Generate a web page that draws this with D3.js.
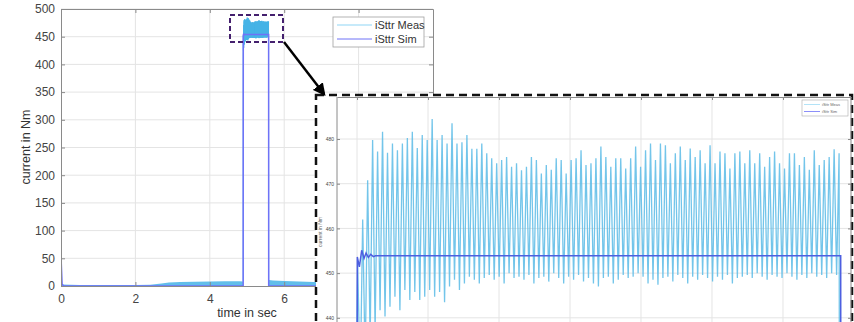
<!DOCTYPE html>
<html>
<head>
<meta charset="utf-8">
<script src="https://cdn.jsdelivr.net/npm/d3@7"></script>
<style>
  body { margin: 0; background: #fff; }
  svg { display: block; font-family: "Liberation Sans", Arial, sans-serif; }
  .grid line { stroke: #e4e4e4; stroke-width: 1; }
  .axis path, .axis line { stroke: #8a8a8a; }
  .axis text { fill: #444; }
</style>
</head>
<body>
<div id="chart"></div>
<script>
// simulated current: [time, value]
const simPoints = [
  [0, 116], [0.008, 40], [0.03, 3], [0.08, 0], [4.8972, 0],
  [4.9004, 453.6], [4.9033, 451.4], [4.9066, 455.1], [4.9099, 453.3],
  [4.9127, 454.5], [4.9160, 453.5], [4.9193, 454.2], [4.9230, 453.7],
  [4.9260, 453.9], [5.5813, 453.9], [5.5830, 0], [10, 0]
];

// measured current, low level part (envelope of the noisy band)
const lowT  = [0, 0.02, 0.5, 1.0, 1.5, 2.0, 2.4, 2.7, 2.9, 3.2, 3.6, 4.0, 4.4, 4.8, 4.895];
const lowHi = [6, 2.5, 1.8, 1.6, 1.6, 1.8, 2.4, 4.5, 6.5, 7, 7.5, 8, 8.5, 8.5, 8];
const postT  = [5.585, 5.7, 6.0, 6.4, 6.8, 7.2, 8, 9, 10];
const postHi = [11, 10, 9, 8, 7, 6, 5, 4, 4];

// measured current during the load step: one peak and one trough per cycle
const measStart = 4.8975;
const measPeriod = 0.00699;
const measPeak = [
  452, 462, 470.8, 479.8, 477.2, 481.6, 476.9, 479, 477.5, 479, 480.2, 481.6, 478, 480.9, 479.8, 484.5, 479.8, 480.9, 479,
  483.5, 479, 479.3, 480.9, 477.8, 477.8, 479, 476.8, 475.7, 474.6, 475.3, 476, 473.8, 474.6, 473, 473.8, 476, 475.3, 472.3,
  474.2, 473.1, 475.7, 475.3, 472.3, 475.3, 475.7, 477.5, 474.2, 474.6, 475.7, 478.3, 476.0, 473.8, 475.7, 475.7, 473.4, 475.7, 478.3, 473.8,
  477.5, 479.0, 475.3, 479.0, 478.6, 474.6, 476.8, 478.3, 475.3, 477.9, 476.0, 477.5, 474.6, 478.6, 474.6, 477.2, 476.8, 473.4, 476.8, 477.2, 474.6,
  477.5, 474.6, 476.8, 473.8, 476.0, 477.2, 474.6, 473.4, 476.8, 476.8, 474.2, 476.0, 473.1, 477.5, 474.2, 475.3, 476.0, 477.7, 476.8
];
const measTrough = [
  415, 425, 430, 435, 437, 441.7, 440.3, 442.5, 444.7, 441.7, 446.2, 444, 445.8, 444, 444.7, 446.2, 444.7, 445.8, 443.5,
  447.0, 448.5, 446.2, 447.7, 449.2, 448.5, 447.7, 448.9, 449.6, 448.5, 449.2, 447.7, 450.0, 448.9, 449.2, 448.5, 449.6, 447.7, 448.9,
  449.2, 448.1, 450.0, 448.9, 447.7, 449.2, 448.5, 449.6, 448.1, 448.9, 447.7, 447.0, 448.9, 449.2, 447.7, 448.5, 449.6, 448.9, 449.2, 450.0,
  449.2, 447.7, 448.5, 447.4, 448.9, 449.2, 448.1, 449.6, 448.9, 447.7, 449.2, 448.5, 449.6, 448.9, 448.1, 449.2, 448.5, 449.6, 447.7, 448.9, 449.2,
  449.6, 448.9, 450.0, 449.2, 448.5, 449.6, 449.2, 448.9, 450.0, 449.2, 448.5, 449.6, 448.9, 450.0, 449.2, 449.6, 448.9, 450.0, 449.6
];

const xTicksMain = [0, 2, 4, 6, 8];
const yTicksMain = [0, 50, 100, 150, 200, 250, 300, 350, 400, 450, 500];
const xTicksInset = [4.9, 5.0, 5.1, 5.2, 5.3, 5.4, 5.5];
const yTicksInset = [440, 450, 460, 470, 480];
const legendNames = ["iSttr Meas", "iSttr Sim"];

const measColor = "#45b3e6", simColor = "#6f72f7", simColorInset = "#4d5fe0";

// build the measured series for the step from peaks/troughs
const measStep = [[measStart - 0.0002, 8]];
measPeak.forEach((p, i) => {
  const t0 = measStart + i * measPeriod;
  measStep.push([t0, measTrough[i]]);
  measStep.push([t0 + measPeriod / 2, p]);
});
measStep.push([measStart + measPeak.length * measPeriod, 9]);

const W = 854, H = 322;
const svg = d3.select("#chart").append("svg").attr("width", W).attr("height", H);

// ---------------- main axes ----------------
const x = d3.scaleLinear().domain([0, 10]).range([61, 433]);
const y = d3.scaleLinear().domain([0, 500]).range([286, 9]);

svg.append("defs").append("clipPath").attr("id", "clipMain")
  .append("rect").attr("x", 61).attr("y", 9).attr("width", 372).attr("height", 277);

const main = svg.append("g");
main.append("g").attr("class", "grid")
  .selectAll("line.v").data(xTicksMain.slice(1)).join("line")
  .attr("x1", d => x(d)).attr("x2", d => x(d)).attr("y1", y(0)).attr("y2", y(500));
main.append("g").attr("class", "grid")
  .selectAll("line.h").data(yTicksMain.slice(1)).join("line")
  .attr("x1", x(0)).attr("x2", x(10)).attr("y1", d => y(d)).attr("y2", d => y(d));

const plot = main.append("g").attr("clip-path", "url(#clipMain)");
const area = d3.area().x(d => x(d[0])).y0(y(0)).y1(d => y(d[1]));
plot.append("path").datum(lowT.map((t, i) => [t, lowHi[i]]))
  .attr("d", area).attr("fill", measColor).attr("opacity", 0.85);
plot.append("path").datum(postT.map((t, i) => [t, postHi[i]]))
  .attr("d", area).attr("fill", measColor).attr("opacity", 0.85);
const lineMain = d3.line().x(d => x(d[0])).y(d => y(d[1]));
plot.append("path").datum(measStep).attr("d", lineMain)
  .attr("fill", "none").attr("stroke", measColor).attr("stroke-width", 1);
plot.append("path").datum(simPoints).attr("d", lineMain)
  .attr("fill", "none").attr("stroke", simColor).attr("stroke-width", 1.5);

// axes with inward ticks and box
main.append("g").attr("class", "axis").attr("transform", `translate(0,${y(0)})`)
  .call(d3.axisBottom(x).tickValues(xTicksMain).tickSizeInner(-4).tickSizeOuter(0).tickPadding(8))
  .call(g => g.selectAll("text").attr("font-size", 12));
main.append("g").attr("class", "axis").attr("transform", `translate(${x(0)},0)`)
  .call(d3.axisLeft(y).tickValues(yTicksMain).tickSizeInner(-4).tickSizeOuter(0).tickPadding(6))
  .call(g => g.selectAll("text").attr("font-size", 12));
main.append("g").attr("class", "axis").attr("transform", `translate(0,${y(500)})`)
  .call(d3.axisTop(x).tickValues(xTicksMain).tickSizeInner(-4).tickSizeOuter(0).tickFormat(""));
main.append("g").attr("class", "axis").attr("transform", `translate(${x(10)},0)`)
  .call(d3.axisRight(y).tickValues(yTicksMain).tickSizeInner(-4).tickSizeOuter(0).tickFormat(""));

main.append("text").attr("x", 247).attr("y", 317).attr("text-anchor", "middle")
  .attr("font-size", 12.5).attr("fill", "#333").text("time in sec");
main.append("text").attr("transform", "translate(30,147) rotate(-90)").attr("text-anchor", "middle")
  .attr("font-size", 12.5).attr("fill", "#333").text("current in Nm");

// main legend
const leg = main.append("g");
leg.append("rect").attr("x", 333).attr("y", 17).attr("width", 91).attr("height", 30)
  .attr("fill", "#fff").attr("stroke", "#a0a0a0").attr("stroke-width", 0.8);
[["#8fd5f5", 25], [simColor, 39]].forEach(([c, yy], i) => {
  leg.append("line").attr("x1", 337).attr("x2", 372).attr("y1", yy).attr("y2", yy)
    .attr("stroke", c).attr("stroke-width", 1);
  leg.append("text").attr("x", 375).attr("y", yy).attr("dy", "0.35em")
    .attr("font-size", 11).attr("fill", "#333").text(legendNames[i]);
});

// zoom marker
main.append("rect").attr("x", 230).attr("y", 15).attr("width", 53).attr("height", 27)
  .attr("fill", "none").attr("stroke", "#44206e").attr("stroke-width", 2)
  .attr("stroke-dasharray", "5,3");

// ---------------- inset ----------------
const frame = svg.append("g");
frame.append("rect").attr("x", 316).attr("y", 95).attr("width", 536).attr("height", 240)
  .attr("fill", "#fff").attr("stroke", "#111").attr("stroke-width", 2.5)
  .attr("stroke-dasharray", "8,5");

const xi = d3.scaleLinear().domain([4.8718, 5.5958]).range([337, 851]);
const yi = d3.scaleLinear().domain([430, 489.4]).range([97 + 59.4 * 4.47, 97]);

svg.select("defs").append("clipPath").attr("id", "clipInset")
  .append("rect").attr("x", 337).attr("y", 97).attr("width", 514).attr("height", 260);

const inset = svg.append("g");
inset.append("g").attr("class", "grid")
  .selectAll("line").data(xTicksInset).join("line")
  .attr("x1", d => xi(d)).attr("x2", d => xi(d)).attr("y1", 97).attr("y2", H);
inset.append("g").attr("class", "grid")
  .selectAll("line").data(yTicksInset).join("line")
  .attr("x1", 337).attr("x2", 851).attr("y1", d => yi(d)).attr("y2", d => yi(d));

const ip = inset.append("g").attr("clip-path", "url(#clipInset)");
const lineInset = d3.line().x(d => xi(d[0])).y(d => yi(d[1]));
ip.append("path").datum(measStep).attr("d", lineInset)
  .attr("fill", "none").attr("stroke", "#5bbbe6").attr("stroke-width", 1.3).attr("opacity", 0.85);
ip.append("path").datum(simPoints).attr("d", lineInset)
  .attr("fill", "none").attr("stroke", simColorInset).attr("stroke-width", 1.5);

inset.append("g").attr("class", "axis").attr("transform", "translate(337,0)")
  .call(d3.axisLeft(yi).tickValues(yTicksInset).tickSizeInner(-3).tickSizeOuter(0).tickPadding(3))
  .call(g => g.select(".domain").attr("d", `M0,97V${H}`))
  .call(g => g.selectAll("text").attr("font-size", 5).attr("fill", "#777"));
inset.append("g").attr("class", "axis").attr("transform", "translate(851,0)")
  .call(d3.axisRight(yi).tickValues(yTicksInset).tickSizeInner(-3).tickSizeOuter(0).tickFormat(""))
  .call(g => g.select(".domain").attr("d", `M0,97V${H}`));
inset.append("g").attr("class", "axis").attr("transform", "translate(0,97)")
  .call(d3.axisTop(xi).tickValues(xTicksInset).tickSizeInner(-3).tickSizeOuter(0).tickFormat(""));

inset.append("text").attr("transform", "translate(322,232) rotate(-90)").attr("text-anchor", "middle")
  .attr("font-size", 5).attr("fill", "#666").text("current in Nm");

// inset legend
const il = inset.append("g");
il.append("rect").attr("x", 802).attr("y", 100).attr("width", 46).attr("height", 16)
  .attr("fill", "#fff").attr("stroke", "#aaa").attr("stroke-width", 0.6);
[["#9fdcf5", 104.5], [simColor, 111.5]].forEach(([c, yy], i) => {
  il.append("line").attr("x1", 804).attr("x2", 820).attr("y1", yy).attr("y2", yy)
    .attr("stroke", c).attr("stroke-width", 0.8);
  il.append("text").attr("x", 822).attr("y", yy).attr("dy", "0.35em")
    .attr("font-size", 4).attr("fill", "#666").text(legendNames[i]);
});

// arrow from marker to inset
svg.select("defs").append("marker").attr("id", "arrow")
  .attr("viewBox", "0 0 10 10").attr("refX", 8).attr("refY", 5)
  .attr("markerWidth", 5).attr("markerHeight", 5).attr("orient", "auto")
  .append("path").attr("d", "M0,0L10,5L0,10z").attr("fill", "#000");
svg.append("line").attr("x1", 284).attr("y1", 42).attr("x2", 324).attr("y2", 94)
  .attr("stroke", "#000").attr("stroke-width", 2.5).attr("marker-end", "url(#arrow)");
</script>
</body>
</html>
